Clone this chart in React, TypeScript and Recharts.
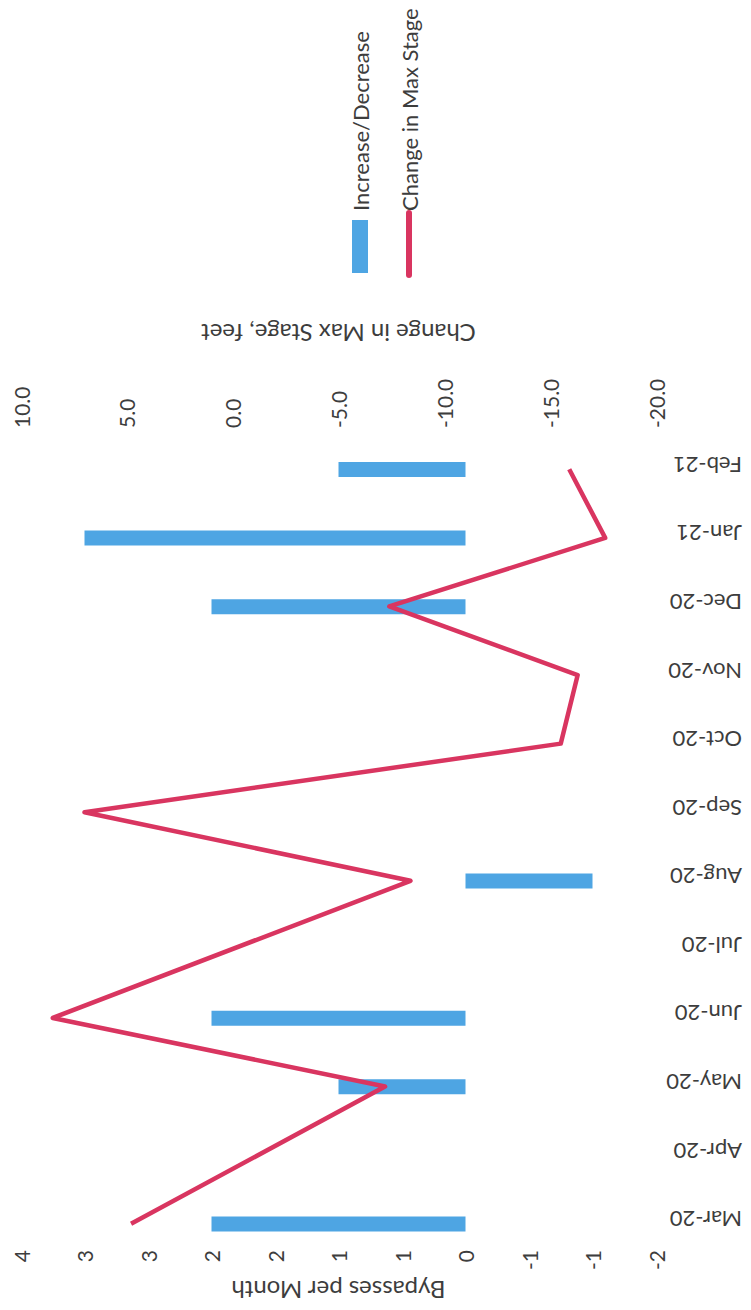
import React from 'react';
import { ComposedChart, Bar, Line, XAxis, YAxis, Legend } from 'recharts';

const months = ['Mar-20', 'Apr-20', 'May-20', 'Jun-20', 'Jul-20', 'Aug-20', 'Sep-20', 'Oct-20', 'Nov-20', 'Dec-20', 'Jan-21', 'Feb-21'];
const bypassChange = [2, null, 1, 2, null, -1, null, null, null, 2, 3, 1];
const stageChange = [4.8, null, -7.2, 8.5, null, -8.4, 7.0, -15.5, -16.3, -7.4, -17.6, -15.9];

const bypassTicks = [-1.5, -1, -0.5, 0, 0.5, 1, 1.5, 2, 2.5, 3, 3.5];
const bypassTickLabels = ['-2', '-1', '-1', '0', '1', '1', '2', '2', '3', '3', '4'];
const stageTicks = [-20, -15, -10, -5, 0, 5, 10];
const stageTickLabels = ['-20.0', '-15.0', '-10.0', '-5.0', '0.0', '5.0', '10.0'];

const data = months.map((m, i) => ({ month: m, bypass: bypassChange[i], stage: stageChange[i] }));

const FONT = 'Lato, "Open Sans", sans-serif';
const TEXT = '#3d3d3d';
const BLUE = '#4ea5e3';
const RED = '#d93560';

// the page is a scan of a rotated sheet, so every label is turned
const BypassTick = ({ x, y, payload }: any) => {
    const label = bypassTickLabels[bypassTicks.indexOf(payload.value)];
    const ty = y - 8;
    return (
        <text x={x} y={ty} transform={`rotate(-90, ${x}, ${ty})`} textAnchor="end" dominantBaseline="central"
            fontSize={21} fill={TEXT} fontFamily={FONT}>{label}</text>
    );
};

const StageTick = ({ x, y, payload }: any) => {
    const label = stageTickLabels[stageTicks.indexOf(payload.value)];
    const ty = y - 7;
    return (
        <text x={x} y={ty} transform={`rotate(-90, ${x}, ${ty})`} textAnchor="start" dominantBaseline="central"
            fontSize={21} fill={TEXT} fontFamily={FONT}>{label}</text>
    );
};

const MonthTick = ({ x, y, payload }: any) => {
    const ax = x + 86;
    const ty = y - 4;
    return (
        <text x={ax} y={ty} transform={`rotate(180, ${ax}, ${ty})`} textAnchor="start" dominantBaseline="central"
            fontSize={22} fill={TEXT} fontFamily={FONT}>{payload.value}</text>
    );
};

const AxisTitle = (dy: number, text: string) => (props: any) => {
    const vb = props.viewBox;
    const cx = vb.x + vb.width / 2;
    const cy = vb.y + dy;
    return (
        <text x={cx} y={cy} transform={`rotate(180, ${cx}, ${cy})`} textAnchor="middle" dominantBaseline="central"
            fontSize={24} fill={TEXT} fontFamily={FONT}>{text}</text>
    );
};

const renderLegend = (props: any) => {
    const { payload } = props;
    return (
        <svg width={100} height={290}>
            {payload.map((entry: any, i: number) => {
                const isLine = entry.type === 'line';
                const cx = isLine ? 72 : 23;
                return (
                    <g key={i}>
                        {isLine
                            ? <line x1={cx} x2={cx} y1={213} y2={275} stroke={entry.color} strokeWidth={6} strokeLinecap="round" />
                            : <rect x={cx - 8} y={220} width={16} height={53} fill={entry.color} />}
                        <text x={cx} y={211} transform={`rotate(-90, ${cx}, ${211})`} textAnchor="start" dominantBaseline="central"
                            fontSize={22} fill={TEXT} fontFamily={FONT}>{entry.value}</text>
                    </g>
                );
            })}
        </svg>
    );
};

export default function App() {
    return (
        <div style={{ position: 'absolute', left: 0, top: 0, width: 751, height: 1310, background: '#fff' }}>
            <ComposedChart
                layout="vertical"
                width={751}
                height={1310}
                data={data}
                margin={{ top: 390, right: 0, bottom: 0, left: 21 }}
            >
                <XAxis
                    xAxisId="bypass"
                    type="number"
                    orientation="bottom"
                    reversed
                    domain={[-1.5, 3.5]}
                    ticks={bypassTicks}
                    interval={0}
                    height={52}
                    axisLine={false}
                    tickLine={false}
                    tickSize={0}
                    tickMargin={0}
                    tick={<BypassTick />}
                    label={{ content: AxisTitle(32, 'Bypasses per Month') }}
                />
                <XAxis
                    xAxisId="stage"
                    type="number"
                    orientation="top"
                    reversed
                    domain={[-20, 10]}
                    ticks={stageTicks}
                    interval={0}
                    height={45}
                    axisLine={false}
                    tickLine={false}
                    tickSize={0}
                    tickMargin={0}
                    tick={<StageTick />}
                    label={{ content: AxisTitle(-57, 'Change in Max Stage, feet') }}
                />
                <YAxis
                    type="category"
                    dataKey="month"
                    orientation="right"
                    reversed
                    width={95}
                    interval={0}
                    axisLine={false}
                    tickLine={false}
                    tickSize={0}
                    tickMargin={0}
                    tick={<MonthTick />}
                />
                <Legend
                    layout="horizontal"
                    verticalAlign="middle"
                    align="center"
                    content={renderLegend}
                    wrapperStyle={{ position: 'absolute', top: 0, left: 337, width: 100, height: 290 }}
                />
                <Bar
                    xAxisId="bypass"
                    dataKey="bypass"
                    name="Increase/Decrease"
                    fill={BLUE}
                    barSize={15}
                    isAnimationActive={false}
                />
                <Line
                    xAxisId="stage"
                    dataKey="stage"
                    name="Change in Max Stage"
                    stroke={RED}
                    strokeWidth={4.5}
                    strokeLinejoin="round"
                    connectNulls
                    dot={false}
                    activeDot={false}
                    isAnimationActive={false}
                />
            </ComposedChart>
        </div>
    );
}
